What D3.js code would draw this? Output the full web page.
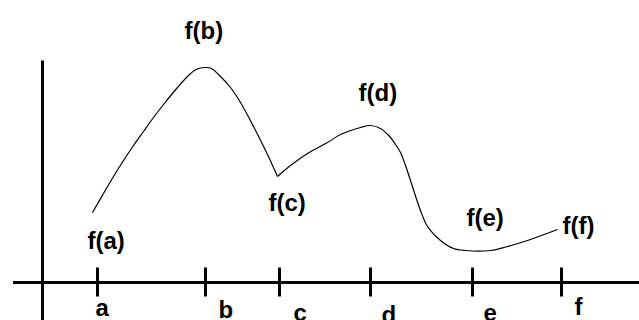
<!DOCTYPE html>
<html>
<head>
<meta charset="utf-8">
<script src="https://cdn.jsdelivr.net/npm/d3@7"></script>
<style>
  html, body { margin: 0; padding: 0; background: #fff; }
  svg { display: block; }
  text { font-family: "Liberation Sans", Arial, sans-serif; font-weight: bold; font-size: 24px; fill: #000; }
</style>
</head>
<body>
<svg id="chart" width="639" height="320"></svg>
<script>
// Tick names along the horizontal axis and where they sit (x units)
const tickNames = ["a", "b", "c", "d", "e", "f"];
const tickValues = [55, 163, 237, 328, 430, 519];

// The function, drawn in two pieces that meet in a corner at c
const rise1X = [50, 61, 71, 81, 91, 101, 111, 121, 135, 145, 152, 158, 163, 169, 176, 188, 198, 211, 225, 235];
const rise1Y = [70, 89, 106, 122, 137, 151, 165, 178, 195, 206, 212, 214.5, 215, 214, 208, 195, 180, 156, 128, 106];
const rise2X = [235, 248, 265, 285, 298, 318, 328, 338, 348, 353, 358, 363, 368, 378, 385, 398, 411, 423, 448, 465, 485, 515];
const rise2Y = [106, 117, 129, 140, 148, 155, 157, 154, 145, 138, 130, 117, 102, 72, 56, 42, 34, 32, 32, 36, 42, 53];

// Function-value labels
const valueLabels = ["f(a)", "f(b)", "f(c)", "f(d)", "f(e)", "f(f)"];

// Layout: label anchors (x units / y units) and tick-name offsets (px)
const valueLabelX = [45, 142, 226, 316, 424, 520];
const valueLabelY = [34, 244, 72, 182, 57, 49];
const tickLabelDx = [-2, 13, 14, 11, 11, 13];
const tickLabelBaseline = [315.5, 317.5, 320.5, 323, 320.5, 314.5];

const svg = d3.select("#chart");
const x = d3.scaleLinear().domain([0, 600]).range([42.5, 642.5]);
const y = d3.scaleLinear().domain([0, 222]).range([282.5, 60.5]);

// Vertical axis
svg.append("line")
  .attr("x1", x(0)).attr("x2", x(0))
  .attr("y1", y(222)).attr("y2", 320)
  .attr("stroke", "#000").attr("stroke-width", 3);

// Horizontal axis
svg.append("line")
  .attr("x1", 13).attr("x2", 639)
  .attr("y1", y(0)).attr("y2", y(0))
  .attr("stroke", "#000").attr("stroke-width", 3);

// Tick marks
svg.append("g").selectAll("line")
  .data(tickValues)
  .join("line")
  .attr("x1", d => x(d)).attr("x2", d => x(d))
  .attr("y1", y(0) - 15).attr("y2", y(0) + 14)
  .attr("stroke", "#000").attr("stroke-width", 3);

// Tick names
svg.append("g").selectAll("text")
  .data(tickNames)
  .join("text")
  .attr("x", (d, i) => x(tickValues[i]) + tickLabelDx[i])
  .attr("y", (d, i) => tickLabelBaseline[i])
  .text(d => d);

// Curve
const line = d3.line()
  .x(d => x(d[0]))
  .y(d => y(d[1]))
  .curve(d3.curveCatmullRom.alpha(0.5));

[[rise1X, rise1Y], [rise2X, rise2Y]].forEach(([xs, ys]) => {
  svg.append("path")
    .datum(xs.map((v, i) => [v, ys[i]]))
    .attr("d", line)
    .attr("fill", "none")
    .attr("stroke", "#000")
    .attr("stroke-width", 1.2);
});

// Function-value labels
svg.append("g").selectAll("text")
  .data(valueLabels)
  .join("text")
  .attr("x", (d, i) => x(valueLabelX[i]))
  .attr("y", (d, i) => y(valueLabelY[i]))
  .text(d => d);
</script>
</body>
</html>
